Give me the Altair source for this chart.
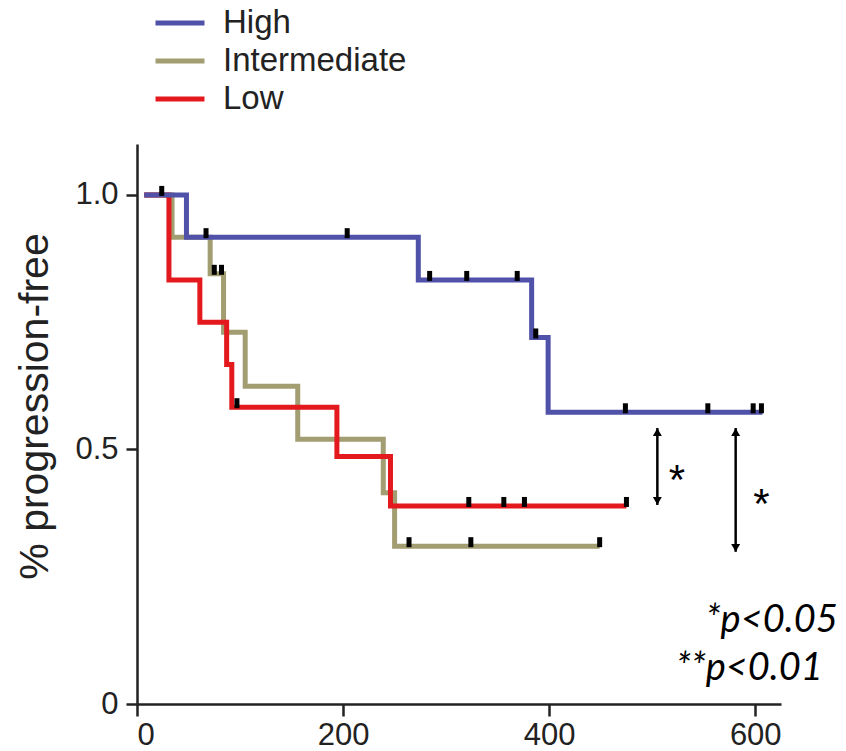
import altair as alt
import pandas as pd

# ---- data ----
groups = ["High", "Intermediate", "Low"]
colors = ["#4f52a8", "#a39d72", "#e3191e"]

high_t = [7, 48, 273, 383, 399, 607]
high_s = [1.0, 0.917, 0.833, 0.72, 0.573, 0.573]
inter_t = [7, 34, 71, 84, 105, 156, 239, 250, 449]
inter_s = [1.0, 0.917, 0.845, 0.73, 0.624, 0.52, 0.415, 0.31, 0.31]
low_t = [7, 31, 61, 87, 92, 194, 246, 475]
low_s = [1.0, 0.833, 0.75, 0.667, 0.583, 0.486, 0.389, 0.389]

high_cens_t = [24, 67, 204, 284, 320, 369, 387, 474, 554, 598, 606]
high_cens_s = [1.0, 0.917, 0.917, 0.833, 0.833, 0.833, 0.72, 0.573, 0.573, 0.573, 0.573]
inter_cens_t = [75, 82, 264, 324, 449]
inter_cens_s = [0.845, 0.845, 0.31, 0.31, 0.31]
low_cens_t = [97, 322, 356, 376, 475]
low_cens_s = [0.583, 0.389, 0.389, 0.389, 0.389]

arrow_t = [505, 581]
arrow_top = [0.542, 0.542]
arrow_bottom = [0.391, 0.299]
star_t = [524, 606]
star_s = [0.438, 0.391]

note_text = ["*p<0.05", "**p<0.01"]
note_t = [552, 523]
note_s = [0.1415, 0.047]

x_ticks = [0, 200, 400, 600]
y_ticks = [0, 0.5, 1.0]

# ---- tables ----
curves = pd.concat([
    pd.DataFrame({"group": "High", "t": high_t, "s": high_s}),
    pd.DataFrame({"group": "Intermediate", "t": inter_t, "s": inter_s}),
    pd.DataFrame({"group": "Low", "t": low_t, "s": low_s}),
], ignore_index=True)
cens = pd.DataFrame({
    "t": high_cens_t + inter_cens_t + low_cens_t,
    "s": high_cens_s + inter_cens_s + low_cens_s,
})
arrows = pd.DataFrame({"t": arrow_t, "top": arrow_top, "bottom": arrow_bottom})
stars = pd.DataFrame({"t": star_t, "s": star_s, "label": ["*", "*"]})
notes = pd.DataFrame({"t": note_t, "s": note_s, "label": note_text})

x_scale = alt.Scale(domain=[0, 625], nice=False, zero=False)
y_scale = alt.Scale(domain=[0, 1.1], nice=False)
color_scale = alt.Scale(domain=groups, range=colors)

x_axis = alt.Axis(values=x_ticks, title=None, grid=False)
y_axis = alt.Axis(values=y_ticks, title="% progression-free", grid=False,
                  labelExpr="datum.value == 0 ? '0' : format(datum.value, '.1f')",
                  titleX=-90, titleY=262, titleAngle=270, titleAlign="center",
                  titleBaseline="alphabetic")


def X(field):
    return alt.X(field, type="quantitative", scale=x_scale, axis=x_axis)


def Y(field):
    return alt.Y(field, type="quantitative", scale=y_scale, axis=y_axis)


legend = alt.Legend(orient="none", legendX=16, legendY=-140, symbolType="stroke",
                    symbolSize=2400, symbolStrokeWidth=5, labelFontSize=33,
                    labelFont="Liberation Sans", labelColor="#222", labelOffset=16,
                    labelLimit=400, clipHeight=38, rowPadding=0, padding=0)


def curve_layer(g):
    return alt.Chart(curves).transform_filter(alt.datum.group == g).mark_line(
        interpolate="step-after", strokeWidth=5
    ).encode(
        x=X("t"), y=Y("s"),
        color=alt.Color("group:N", scale=color_scale, legend=legend, title=None),
    )


censor = alt.Chart(cens).mark_tick(color="black", orient="vertical", size=10,
                                    thickness=5, opacity=1, yOffset=-4).encode(
    x=X("t"), y=Y("s"))

shafts = alt.Chart(arrows).mark_rule(color="black", strokeWidth=2.5).encode(
    x=X("t"), y=Y("top"), y2="bottom:Q")
heads_up = alt.Chart(arrows).mark_point(shape="triangle-up", filled=True, size=80,
                                        color="black", opacity=1, yOffset=4).encode(
    x=X("t"), y=Y("top"))
heads_down = alt.Chart(arrows).mark_point(shape="triangle-down", filled=True, size=80,
                                          color="black", opacity=1, yOffset=-4).encode(
    x=X("t"), y=Y("bottom"))
star_text = alt.Chart(stars).mark_text(fontSize=42, font="Liberation Sans",
                                       color="black").encode(
    x=X("t"), y=Y("s"), text="label:N")
note_marks = alt.Chart(notes).mark_text(align="left", baseline="alphabetic",
                                        font="Lato", fontStyle="italic",
                                        fontSize=38, color="black").encode(
    x=X("t"), y=Y("s"), text="label:N")

chart = alt.layer(
    curve_layer("Intermediate"), curve_layer("Low"), curve_layer("High"),
    censor, shafts, heads_up, heads_down, star_text, note_marks,
).properties(
    width=644, height=560,
    autosize=alt.AutoSizeParams(type="none"),
    padding={"left": 137, "top": 144, "right": 65, "bottom": 47},
).configure_view(stroke=None).configure_axis(
    domainColor="#222", domainWidth=2.5, tickColor="#222", tickWidth=2.5,
    labelFont="Liberation Sans", labelFontSize=31, labelColor="#222",
    titleFont="Liberation Sans", titleFontSize=41, titleColor="#222",
    titleFontWeight="normal",
).configure_axisX(tickSize=12, labelPadding=4).configure_axisY(
    tickSize=11, labelPadding=8)

chart.save("out.html", embed_options={"renderer": "svg", "actions": False})
